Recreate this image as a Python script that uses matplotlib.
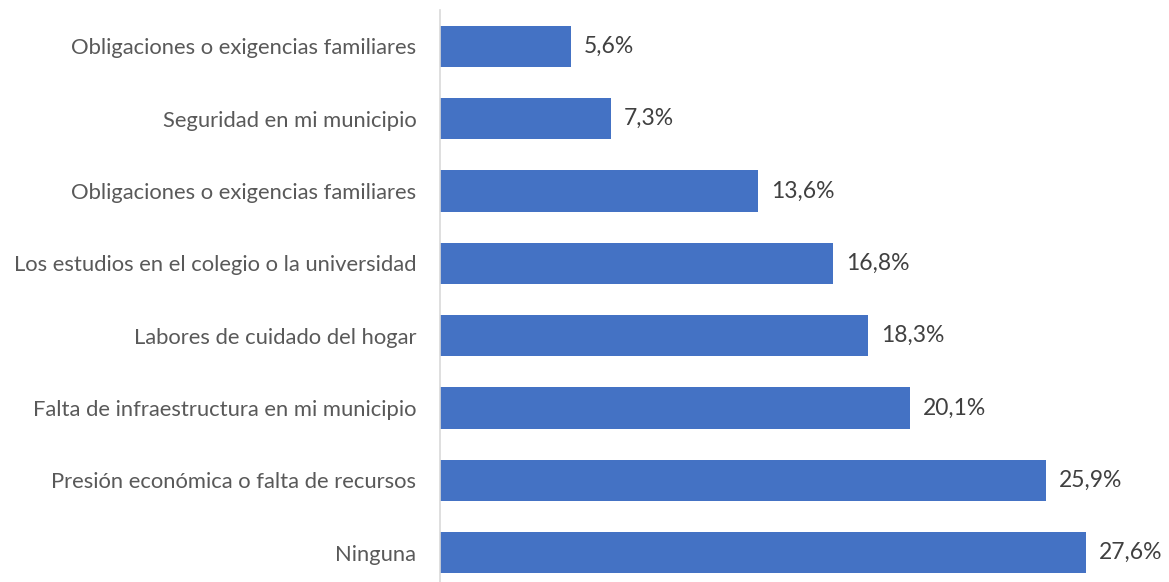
import matplotlib.pyplot as plt

plt.rcParams['font.family'] = ['Lato', 'DejaVu Sans']

categorias = ['Obligaciones o exigencias familiares',
              'Seguridad en mi municipio',
              'Obligaciones o exigencias familiares',
              'Los estudios en el colegio o la universidad',
              'Labores de cuidado del hogar',
              'Falta de infraestructura en mi municipio',
              'Presión económica o falta de recursos',
              'Ninguna']
valores = [5.6, 7.3, 13.6, 16.8, 18.3, 20.1, 25.9, 27.6]

W, H = 1169, 582
fig = plt.figure(figsize=(W / 100, H / 100), dpi=100)
# axes in pixels: left 440, top 10, bottom 589 (slightly below the figure)
ax = fig.add_axes([440 / W, (H - 589) / H, 702 / W, 579 / H])

y = list(range(len(categorias)))
bars = ax.barh(y, valores, height=0.57, color='#4472C4')
ax.set_ylim(len(categorias) - 0.5, -0.5)
ax.set_xlim(0, 30)

for bar, v in zip(bars, valores):
    ax.text(bar.get_width() + 0.55, bar.get_y() + bar.get_height() / 2,
            f'{v:.1f}%'.replace('.', ','), va='center', ha='left',
            fontsize=16.5, color='#404040')

ax.set_yticks(y)
ax.set_yticklabels(categorias, fontsize=15.8, color='#595959')
ax.tick_params(axis='y', length=0, pad=17)
ax.set_xticks([])
for s in ['top', 'right', 'bottom']:
    ax.spines[s].set_visible(False)
ax.spines['left'].set_color('#D9D9D9')
ax.spines['left'].set_linewidth(1.2)

fig.savefig('out.png', dpi=100)
